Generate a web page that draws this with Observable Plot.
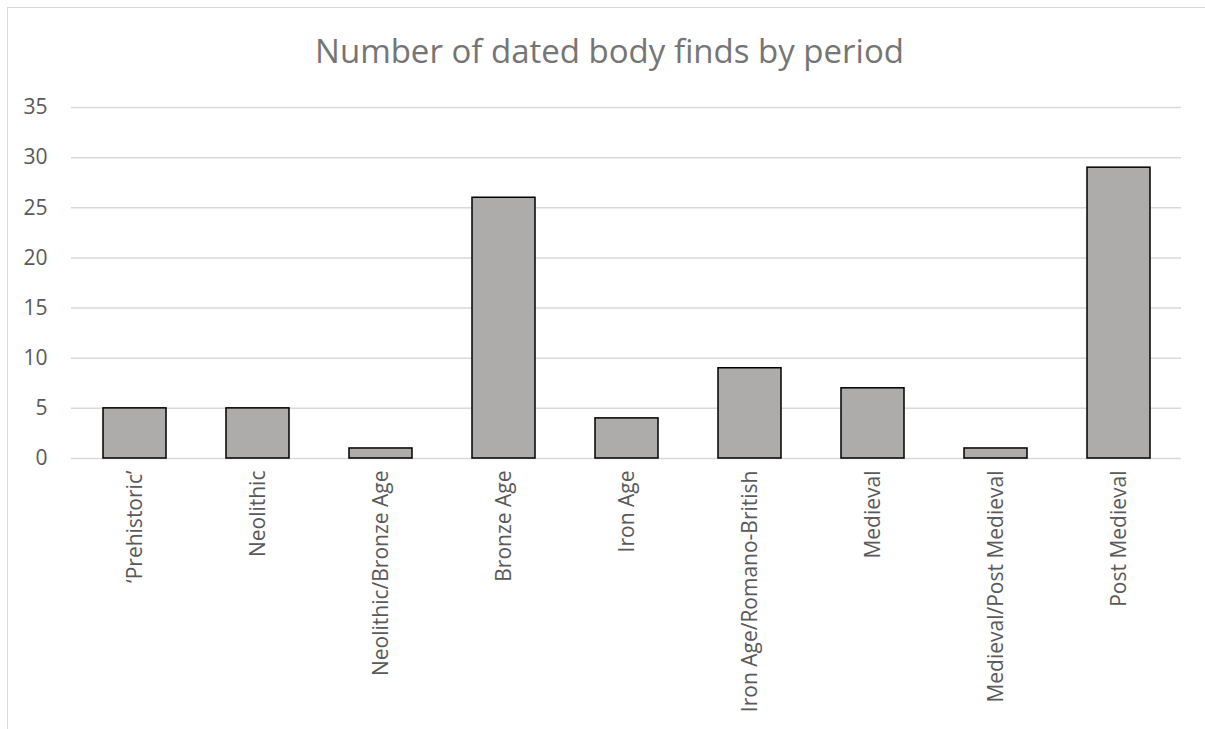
<!DOCTYPE html>
<html>
<head>
<meta charset="utf-8">
<script src="https://cdn.jsdelivr.net/npm/d3@7"></script>
<script src="https://cdn.jsdelivr.net/npm/@observablehq/plot@0.6"></script>
<style>
  html, body { margin: 0; padding: 0; background: #fff; overflow: hidden; }
  #wrap { position: relative; width: 1205px; height: 729px; overflow: hidden; font-family: "Open Sans", sans-serif; }
  #frame { position: absolute; left: 7px; top: 7px; width: 1300px; height: 900px; border: 1.5px solid #D9D9D9; box-sizing: border-box; }
  #title { position: absolute; left: 0; width: 1219px; top: 34px; line-height: 33px; text-align: center; font-size: 33px; color: #757575; white-space: nowrap; }
  #chart { position: absolute; left: 0; top: 0; }
</style>
</head>
<body>
<div id="wrap">
  <div id="frame"></div>
  <div id="chart"></div>
  <div id="title">Number of dated body finds by period</div>
</div>
<script>
const periods = ["\u2018Prehistoric\u2019", "Neolithic", "Neolithic/Bronze Age", "Bronze Age", "Iron Age", "Iron Age/Romano-British", "Medieval", "Medieval/Post Medieval", "Post Medieval"];
const counts = [5, 5, 1, 26, 4, 9, 7, 1, 29];
const yTicks = [0, 5, 10, 15, 20, 25, 30, 35];

const data = periods.map((p, i) => ({period: p, count: counts[i]}));

const chart = Plot.plot({
  width: 1205,
  height: 729,
  marginLeft: 71,
  marginRight: 24,
  marginTop: 107,
  marginBottom: 271,
  style: {fontFamily: "Open Sans, sans-serif", fontSize: "21px", color: "#595959", background: "transparent"},
  x: {domain: periods, paddingInner: 0.49, paddingOuter: 0.245, label: null},
  y: {domain: [0, 35], label: null},
  marks: [
    Plot.ruleY(yTicks, {stroke: "#D9D9D9", strokeWidth: 1.5}),
    Plot.barY(data, {x: "period", y: "count", fill: "#AEABAB", stroke: "#000", strokeWidth: 1.5}),
    Plot.axisY(yTicks, {tickSize: 0, tickPadding: 24, fontSize: 21, fill: "#595959", label: null}),
    Plot.axisX({tickSize: 0, tickRotate: -90, tickPadding: 12, fontSize: 21, fill: "#595959", label: null})
  ]
});
document.getElementById("chart").appendChild(chart);
</script>
</body>
</html>
